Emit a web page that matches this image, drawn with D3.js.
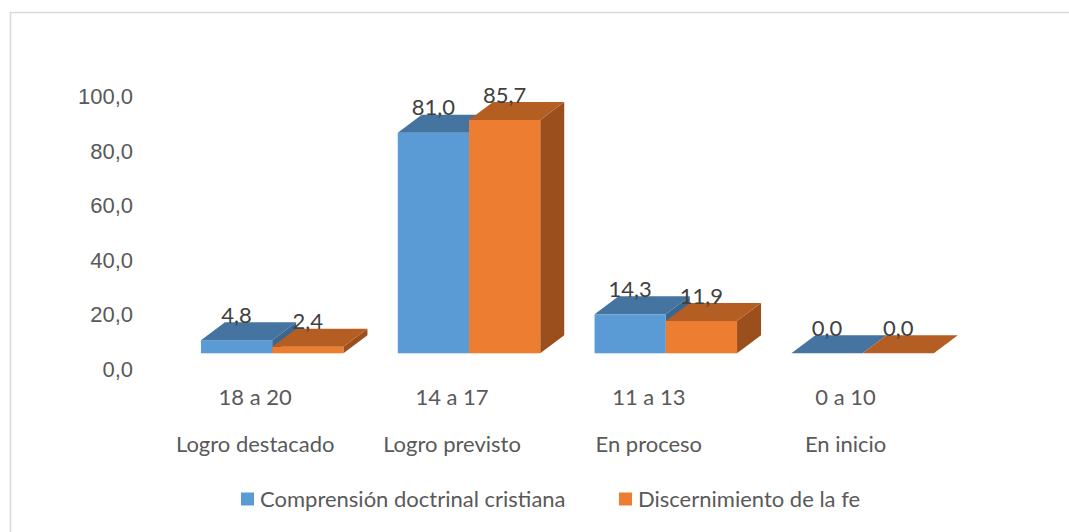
<!DOCTYPE html>
<html>
<head>
<meta charset="utf-8">
<script src="https://cdn.jsdelivr.net/npm/d3@7"></script>
<style>
  body { margin: 0; background: #fff; }
  svg { display: block; font-family: Lato, "Open Sans", sans-serif; }
</style>
</head>
<body>
<div id="chart"></div>
<script>
const width = 1069;
const height = 532;
const fontSize = 22;

// data
const ranges = ["18 a 20", "14 a 17", "11 a 13", "0 a 10"];
const levels = ["Logro destacado", "Logro previsto", "En proceso", "En inicio"];
const seriesNames = ["Comprensión doctrinal cristiana", "Discernimiento de la fe"];
const comprension = [4.8, 81.0, 14.3, 0.0];
const discernimiento = [2.4, 85.7, 11.9, 0.0];
const yTicks = [0, 20, 40, 60, 80, 100];

const seriesValues = [comprension, discernimiento];
const colors = [
  {front: "#5B9BD5", top: "#44749F", side: "#3B6690"},
  {front: "#ED7D31", top: "#B55E23", side: "#9A4F1C"}
];

// depth offset of the fake 3d boxes
const depth = {dx: 24, dy: -18};

const svg = d3.select("#chart").append("svg")
    .attr("width", width)
    .attr("height", height);

// chart area border (only left/top visible in the crop)
svg.append("rect")
    .attr("x", 10.5).attr("y", 12.5)
    .attr("width", 1200).attr("height", 700)
    .attr("fill", "none")
    .attr("stroke", "#D9D9D9")
    .attr("stroke-width", 1.5);

const x = d3.scaleBand()
    .domain(ranges)
    .range([173.8, 961])
    .paddingInner(0.276)
    .paddingOuter(0.138);

const xs = d3.scaleBand()
    .domain(seriesNames)
    .range([0, x.bandwidth()]);

const y = d3.scaleLinear()
    .domain([0, 100])
    .range([353.3, 81]);

// y tick labels (sit on the back wall, a bit lower than the front scale)
const yAxis = d3.axisLeft(y)
    .tickValues(yTicks)
    .tickSize(0)
    .tickPadding(0)
    .tickFormat(d => d3.format(".1f")(d).replace(".", ","));

const gy = svg.append("g")
    .attr("transform", "translate(133,15)")
    .call(yAxis);
gy.select(".domain").remove();
gy.selectAll("text")
    .attr("fill", "#595959")
    .attr("font-size", fontSize)
    .attr("dy", "0.35em");

// bars
const bars = [];
ranges.forEach((r, i) => {
  seriesNames.forEach((s, j) => {
    bars.push({cat: r, series: s, j: j, value: seriesValues[j][i]});
  });
});

const barG = svg.append("g");

bars.forEach(d => {
  const x0 = x(d.cat) + xs(d.series);
  const x1 = x0 + xs.bandwidth();
  const yt = y(d.value);
  const yb = y(0);
  const c = colors[d.j];
  const g = barG.append("g");
  if (d.value > 0) {
    // side face
    g.append("path")
      .attr("d", `M${x1},${yt} L${x1 + depth.dx},${yt + depth.dy} L${x1 + depth.dx},${yb + depth.dy} L${x1},${yb} Z`)
      .attr("fill", c.side);
    // front face
    g.append("rect")
      .attr("x", x0).attr("y", yt)
      .attr("width", x1 - x0).attr("height", yb - yt)
      .attr("fill", c.front);
  }
  // top face
  g.append("path")
    .attr("d", `M${x0},${yt} L${x0 + depth.dx},${yt + depth.dy} L${x1 + depth.dx},${yt + depth.dy} L${x1},${yt} Z`)
    .attr("fill", c.top);
});

// value labels
svg.append("g").selectAll("text")
  .data(bars)
  .join("text")
    .attr("x", d => x(d.cat) + xs(d.series) + xs.bandwidth() / 2)
    .attr("y", d => y(d.value) + depth.dy - 7)
    .attr("dy", "0.35em")
    .attr("text-anchor", "middle")
    .attr("fill", "#404040")
    .attr("font-size", fontSize)
    .text(d => d3.format(".1f")(d.value).replace(".", ","));

// category labels, two rows
const catG = svg.append("g")
    .attr("fill", "#595959")
    .attr("font-size", fontSize)
    .attr("text-anchor", "middle");

catG.selectAll(".range")
  .data(ranges)
  .join("text")
    .attr("class", "range")
    .attr("x", d => x(d) + x.bandwidth() / 2 - 17)
    .attr("y", 397)
    .attr("dy", "0.35em")
    .text(d => d);

catG.selectAll(".level")
  .data(levels)
  .join("text")
    .attr("class", "level")
    .attr("x", (d, i) => x(ranges[i]) + x.bandwidth() / 2 - 17)
    .attr("y", 444)
    .attr("dy", "0.35em")
    .text(d => d);

// legend
const legendX = [241, 619];
const legend = svg.append("g")
  .selectAll("g")
  .data(seriesNames)
  .join("g")
    .attr("transform", (d, i) => `translate(${legendX[i]},499)`);

legend.append("rect")
    .attr("x", 0).attr("y", -6.5)
    .attr("width", 13).attr("height", 13)
    .attr("fill", (d, i) => colors[i].front);

legend.append("text")
    .attr("x", 19)
    .attr("dy", "0.35em")
    .attr("fill", "#595959")
    .attr("font-size", fontSize)
    .text(d => d);
</script>
</body>
</html>
